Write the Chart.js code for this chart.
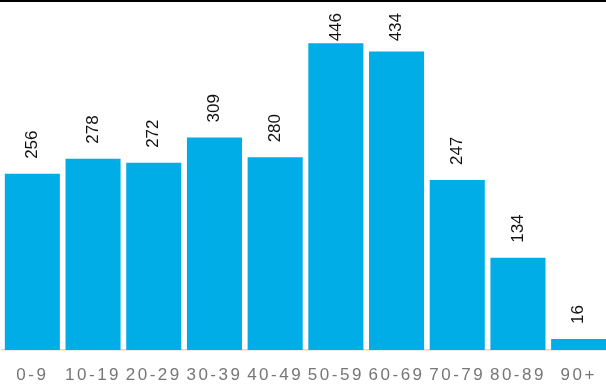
<!DOCTYPE html>
<html>
<head>
<meta charset="utf-8">
<script src="https://cdn.jsdelivr.net/npm/chart.js@4"></script>
<style>
  html, body { margin: 0; padding: 0; background: #fff; overflow: hidden; }
  #wrap { width: 610px; height: 386px; }
</style>
</head>
<body>
<div id="wrap"><canvas id="graficoIdade"></canvas></div>
<script>
// faixas etarias e quantidades
const faixas = ["0-9", "10-19", "20-29", "30-39", "40-49", "50-59", "60-69", "70-79", "80-89", "90+"];
const quantidades = [256, 278, 272, 309, 280, 446, 434, 247, 134, 16];
const eixoMax = 500;

const corBarra = "#00ADE6";

// espaçamento das letras no eixo x, depois volta ao normal
const espacoLetras = {
  id: "espacoLetras",
  beforeDraw(chart) {
    chart.ctx.letterSpacing = "2.5px";
  },
  beforeDatasetsDraw(chart) {
    chart.ctx.letterSpacing = "0px";
  },
};

// valores girados em cima das barras
const rotulosValor = {
  id: "rotulosValor",
  afterDatasetsDraw(chart) {
    const ctx = chart.ctx;
    const meta = chart.getDatasetMeta(0);
    ctx.save();
    ctx.font = "17px 'Liberation Sans', Arial, sans-serif";
    ctx.fillStyle = "#111";
    ctx.textBaseline = "middle";
    ctx.textAlign = "left";
    meta.data.forEach((barra, i) => {
      const texto = String(quantidades[i]);
      const largura = ctx.measureText(texto).width;
      let y = barra.y - 15;
      if (y - largura < 13) y = 13 + largura;
      ctx.save();
      ctx.translate(barra.x, y);
      ctx.rotate(-Math.PI / 2);
      ctx.fillText(texto, 0, 0);
      ctx.restore();
    });
    ctx.restore();
  },
  afterDraw(chart) {
    // linha preta no topo
    chart.ctx.save();
    chart.ctx.fillStyle = "#000";
    chart.ctx.fillRect(0, 0, chart.width, 2);
    chart.ctx.restore();
  },
};

const config = {
  type: "bar",
  data: {
    labels: faixas,
    datasets: [
      {
        data: quantidades,
        backgroundColor: corBarra,
        borderWidth: 0,
        barPercentage: 0.907,
        categoryPercentage: 1,
      },
    ],
  },
  options: {
    responsive: true,
    maintainAspectRatio: false,
    animation: false,
    layout: {
      padding: { left: 2, right: 1, top: 6, bottom: 0 },
    },
    plugins: {
      legend: { display: false },
      tooltip: { enabled: false },
    },
    scales: {
      x: {
        afterFit(scale) {
          scale.height = 36;
        },
        grid: { display: false, drawTicks: false },
        border: { display: true, color: "#d9d9d9", width: 1.5 },
        ticks: {
          color: "#767676",
          padding: 15,
          maxRotation: 0,
          autoSkip: false,
          font: { family: "'Liberation Sans', Arial, sans-serif", size: 17 },
        },
      },
      y: {
        display: false,
        min: 0,
        max: eixoMax,
      },
    },
  },
  plugins: [espacoLetras, rotulosValor],
};

const graficoIdade = new Chart(document.getElementById("graficoIdade"), config);
</script>
</body>
</html>
